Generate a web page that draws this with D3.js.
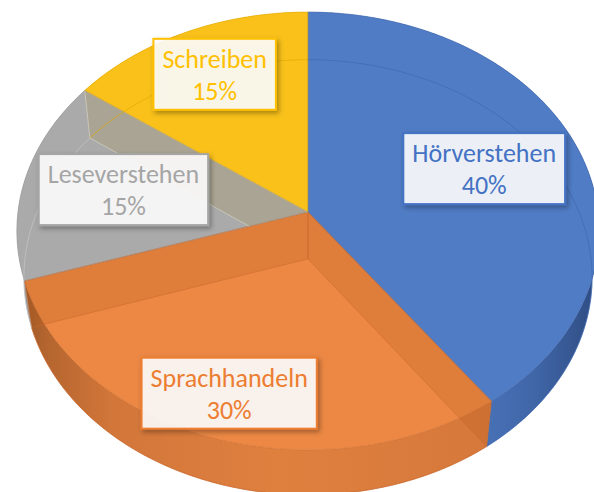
<!DOCTYPE html>
<html><head><meta charset="utf-8">
<script src="https://cdn.jsdelivr.net/npm/d3@7"></script>
<style>body{margin:0;background:#fff;overflow:hidden}svg{display:block}</style>
</head><body>
<svg id="chart" width="594" height="492"></svg>
<script>
// ---- data ----
const categories = ["Hörverstehen", "Sprachhandeln", "Leseverstehen", "Schreiben"];
const values = [40, 30, 15, 15];
const percentLabels = ["40%", "30%", "15%", "15%"];

// ---- styles ----
const topColors  = ["#507cc5", "#ec8844", "#aaaaaa", "#f9c11a"];
const textColors = ["#4472c4", "#ed7d31", "#a5a5a5", "#ffc000"];
const edgeColors = ["#3e66ad", "#cf6a2a", "#9a9a9a", "#e3a800"];
const rimColors  = ["#3f68b0", "#c9682c", "#c8c8c8", "#e3a900"];
const labelRadius = [0.65, 0.82, 0.65, 0.75];

// ---- 3D projection ----
const cx = 308, cy = 212;
const sA = 0.749, cA = Math.sqrt(1 - sA * sA);
const D = 7.64, f = 2215.6, h = 0.25;
function P(t, r, y) {
  const x = r * Math.sin(t), z = -r * Math.cos(t);
  const up = y * cA - z * sA;
  const dep = D - (y * sA + z * cA);
  return [cx + f * x / dep, cy - f * up / dep];
}
function arcPts(a0, a1, y) {
  const n = Math.max(2, Math.ceil(Math.abs(a1 - a0) / 0.01));
  return d3.range(n + 1).map(i => P(a0 + (a1 - a0) * i / n, 1, y));
}
const line = d3.line().curve(d3.curveLinear);
const closed = pts => line(pts) + "Z";

const svg = d3.select("#chart");
const defs = svg.append("defs");

function grad(id, x1, x2, stops) {
  const g = defs.append("linearGradient").attr("id", id)
    .attr("gradientUnits", "userSpaceOnUse")
    .attr("x1", x1).attr("x2", x2).attr("y1", 0).attr("y2", 0);
  stops.forEach(([o, col]) => g.append("stop").attr("offset", o).attr("stop-color", col));
}
grad("wall0", 470, 600, [[0, "#4b74ba"], [0.5, "#4066a8"], [1, "#2e4b80"]]);
grad("wall1", 15, 495, [[0, "#8f5327"], [0.06, "#b3642e"], [0.2, "#d2763a"], [0.55, "#df803f"], [1, "#d5783a"]]);
grad("wall2", 15, 120, [[0, "#959595"], [1, "#a6a6a6"]]);
grad("wall3", 15, 300, [[0, "#d9a400"], [1, "#e8b400"]]);

const flt = defs.append("filter").attr("id", "shadow")
  .attr("x", "-20%").attr("y", "-20%").attr("width", "150%").attr("height", "160%");
flt.append("feDropShadow").attr("dx", 2).attr("dy", 2.5).attr("stdDeviation", 2.5)
  .attr("flood-color", "#000").attr("flood-opacity", 0.35);

const pie = d3.pie().sort(null).value(d => d);
const arcs = pie(values);

const topPath = a => closed([P(0, 0, 0)].concat(arcPts(a.startAngle, a.endAngle, 0)));

// 1. outer walls
svg.append("g").selectAll("path").data(arcs).join("path")
  .attr("d", a => closed(arcPts(a.startAngle, a.endAngle, 0).concat(arcPts(a.endAngle, a.startAngle, -h))))
  .attr("fill", (a, i) => `url(#wall${i})`)
  .attr("stroke", (a, i) => edgeColors[i]).attr("stroke-width", 0.6).attr("stroke-opacity", 0.6);

// 2. top faces
svg.append("g").selectAll("path").data(arcs).join("path")
  .attr("d", topPath)
  .attr("fill", (a, i) => topColors[i]);

defs.append("clipPath").attr("id", "clipGray").append("path").attr("d", topPath(arcs[2]));

// 3. radial walls seen through the top
const quad = t => closed([P(t, 0, 0), P(t, 1, 0), P(t, 1, -h), P(t, 0, -h)]);
const ov = svg.append("g");
[arcs[1].startAngle, arcs[1].endAngle].forEach(t => {
  ov.append("path").attr("d", quad(t))
    .attr("fill", "#b85a1c").attr("fill-opacity", 0.25)
    .attr("stroke", "#c9682c").attr("stroke-width", 0.8).attr("stroke-opacity", 0.6);
});
ov.append("path").attr("d", quad(arcs[3].startAngle))
  .attr("clip-path", "url(#clipGray)")
  .attr("fill", "#a9a493")
  .attr("stroke", "#c9c6b8").attr("stroke-width", 1);

// 4. bottom rim lines seen through
svg.append("g").selectAll("path").data(arcs).join("path")
  .attr("d", a => line(arcPts(a.startAngle, a.endAngle, -h)))
  .attr("fill", "none")
  .attr("stroke", (a, i) => rimColors[i]).attr("stroke-width", 1).attr("stroke-opacity", 0.7);

// 5. top edges
svg.append("g").selectAll("path").data(arcs).join("path")
  .attr("d", topPath)
  .attr("fill", "none")
  .attr("stroke", (a, i) => edgeColors[i]).attr("stroke-width", 0.8).attr("stroke-opacity", 0.55);

// 6. labels
const font = "Carlito, Calibri, Lato, 'Open Sans', sans-serif";
const meas = svg.append("text").attr("font-family", font).attr("font-size", 100).text(categories[0]);
const w100 = meas.node().getComputedTextLength();
meas.remove();
const fontSize = Math.min(26, 145 / w100 * 100);

const labels = svg.append("g");
arcs.forEach((a, i) => {
  const mid = (a.startAngle + a.endAngle) / 2;
  const [lx, ly] = P(mid, labelRadius[i], 0);
  const g = labels.append("g");
  const t1 = g.append("text").attr("font-family", font).attr("font-size", fontSize)
    .attr("fill", textColors[i]).attr("text-anchor", "middle")
    .attr("x", lx).attr("y", ly - 7).text(categories[i]);
  g.append("text").attr("font-family", font).attr("font-size", fontSize)
    .attr("fill", textColors[i]).attr("text-anchor", "middle")
    .attr("x", lx).attr("y", ly + 25).text(percentLabels[i]);
  const tw = t1.node().getComputedTextLength();
  const bw = tw + 18, bh = 71;
  g.insert("rect", "text")
    .attr("x", lx - bw / 2).attr("y", ly - 36).attr("width", bw).attr("height", bh)
    .attr("fill", "#ffffff").attr("fill-opacity", 0.88)
    .attr("stroke", textColors[i]).attr("stroke-width", 2)
    .attr("filter", "url(#shadow)");
});
</script>
</body></html>
